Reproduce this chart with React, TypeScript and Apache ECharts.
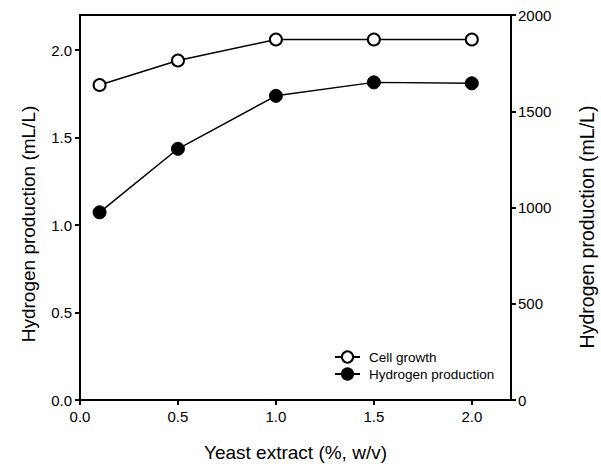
import React, { useEffect, useRef } from "react";
import * as echarts from "echarts";

const xValues = [0.1, 0.5, 1.0, 1.5, 2.0];
const cellGrowth = [1.8, 1.94, 2.06, 2.06, 2.06];
const hydrogenProduction = [975, 1305, 1580, 1650, 1645];
const seriesNames = ["Cell growth", "Hydrogen production"];
const xAxisTitle = "Yeast extract (%, w/v)";
const leftAxisTitle = "Hydrogen production (mL/L)";
const rightAxisTitle = "Hydrogen production (mL/L)";

const FONT = 'Arial, "Liberation Sans", Helvetica, sans-serif';

export default function App() {
  const ref = useRef<HTMLDivElement>(null);
  useEffect(() => {
    if (!ref.current) return;
    const chart = echarts.init(ref.current, null, { renderer: "svg" });
    const axisLine = { show: true, lineStyle: { color: "#000", width: 2 } };
    const axisTick = { show: true, inside: false, length: 5, lineStyle: { color: "#000", width: 2 } };
    chart.setOption({
      animation: false,
      backgroundColor: "#fff",
      textStyle: { fontFamily: FONT },
      grid: {
        left: 80,
        right: 90,
        top: 15,
        bottom: 71,
        show: true,
        borderColor: "#000",
        borderWidth: 2,
        backgroundColor: "transparent",
      },
      legend: {
        orient: "vertical",
        left: 329,
        top: 345,
        itemWidth: 25,
        itemHeight: 14,
        itemGap: 3,
        data: seriesNames,
        textStyle: { fontSize: 13.5, color: "#000", fontFamily: FONT, padding: [0, 0, 0, 4] },
      },
      xAxis: {
        type: "value",
        min: 0,
        max: 2.2,
        interval: 0.5,
        axisLine,
        axisTick,
        splitLine: { show: false },
        axisLabel: {
          color: "#000",
          fontSize: 15,
          margin: 9,
          showMaxLabel: false,
          formatter: (v: number) => v.toFixed(1),
        },
      },
      yAxis: [
        {
          type: "value",
          min: 0,
          max: 2.2,
          interval: 0.5,
          position: "left",
          axisLine,
          axisTick,
          splitLine: { show: false },
          axisLabel: {
            color: "#000",
            fontSize: 15,
            margin: 8,
            showMaxLabel: false,
            formatter: (v: number) => v.toFixed(1),
          },
        },
        {
          type: "value",
          min: 0,
          max: 2000,
          interval: 500,
          position: "right",
          axisLine,
          axisTick,
          splitLine: { show: false },
          axisLabel: { color: "#000", fontSize: 15, margin: 7, formatter: (v: number) => String(v) },
        },
      ],
      graphic: [
        {
          type: "text",
          x: 295.5,
          y: 452,
          style: { text: xAxisTitle, fontSize: 19, fontFamily: FONT, fill: "#000", align: "center", verticalAlign: "middle" },
        },
        {
          type: "text",
          x: 28,
          y: 224,
          rotation: Math.PI / 2,
          style: { text: leftAxisTitle, fontSize: 19, fontFamily: FONT, fill: "#000", align: "center", verticalAlign: "middle" },
        },
        {
          type: "text",
          x: 587,
          y: 227,
          rotation: Math.PI / 2,
          style: { text: rightAxisTitle, fontSize: 19.5, fontFamily: FONT, fill: "#000", align: "center", verticalAlign: "middle" },
        },
      ],
      series: [
        {
          name: seriesNames[0],
          type: "line",
          yAxisIndex: 0,
          data: xValues.map((x, i) => [x, cellGrowth[i]]),
          symbol: "circle",
          symbolSize: 12,
          lineStyle: { color: "#000", width: 1.5 },
          itemStyle: { color: "#fff", borderColor: "#000", borderWidth: 2 },
          z: 3,
        },
        {
          name: seriesNames[1],
          type: "line",
          yAxisIndex: 1,
          data: xValues.map((x, i) => [x, hydrogenProduction[i]]),
          symbol: "circle",
          symbolSize: 13,
          lineStyle: { color: "#000", width: 1.5 },
          itemStyle: { color: "#000", borderColor: "#000", borderWidth: 1 },
          z: 3,
        },
      ],
    });
    return () => chart.dispose();
  }, []);
  return (
    <div
      ref={ref}
      style={{ position: "fixed", left: 0, top: 0, width: 601, height: 471, background: "#fff" }}
    />
  );
}
